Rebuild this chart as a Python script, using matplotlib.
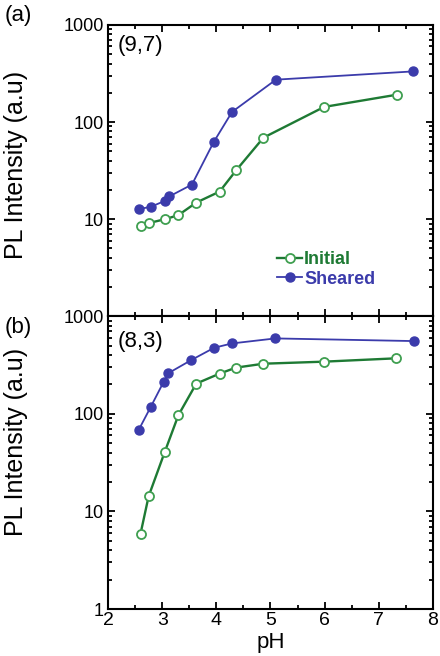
import matplotlib
matplotlib.use('Agg')
import matplotlib.pyplot as plt
from matplotlib.ticker import LogLocator, NullFormatter, MultipleLocator, FixedLocator

plt.rcParams['font.family'] = ['Liberation Sans', 'DejaVu Sans']

# (9,7) panel
ph_sheared_a = [2.58, 2.79, 3.05, 3.13, 3.55, 3.95, 4.29, 5.10, 7.63]
pl_sheared_a = [12.7, 13.4, 15.4, 17.1, 22.7, 62, 127, 273, 332]
ph_initial_a = [2.60, 2.75, 3.06, 3.30, 3.63, 4.06, 4.37, 4.87, 5.99, 7.33]
pl_initial_a = [8.5, 9.1, 10.0, 11.0, 14.8, 19.2, 32, 69, 143, 191]

# (8,3) panel
ph_sheared_b = [2.57, 2.79, 3.03, 3.11, 3.54, 3.96, 4.29, 5.09, 7.65]
pl_sheared_b = [69, 118, 214, 260, 356, 475, 526, 592, 556]
ph_initial_b = [2.60, 2.75, 3.05, 3.30, 3.63, 4.06, 4.36, 4.87, 5.98, 7.31]
pl_initial_b = [5.9, 14.3, 41, 97, 204, 258, 297, 326, 342, 370]

yticks = [1, 10, 100, 1000]
ytick_labels = ['1', '10', '100', '1000']

blue = '#3b3bab'
green = '#1e7a34'
green_edge = '#3f9f50'

fig = plt.figure(figsize=(4.40, 6.56), dpi=100)
ax1 = fig.add_axes([0.2455, 0.518, 0.7385, 0.444])
ax2 = fig.add_axes([0.2455, 0.0716, 0.7385, 0.4464])


def style_axis(ax):
    ax.set_yscale('log')
    ax.set_xlim(2, 8)
    ax.set_ylim(1, 1000)
    ax.xaxis.set_major_locator(MultipleLocator(1))
    ax.xaxis.set_minor_locator(MultipleLocator(0.5))
    ax.yaxis.set_major_locator(FixedLocator(yticks))
    ax.yaxis.set_minor_locator(LogLocator(base=10, subs=range(2, 10)))
    ax.yaxis.set_minor_formatter(NullFormatter())
    ax.set_yticklabels(ytick_labels)
    ax.tick_params(which='both', direction='in', top=True, right=True, width=1.3)
    ax.tick_params(which='major', length=5, labelsize=13, pad=3)
    ax.tick_params(which='minor', length=3)
    for s in ax.spines.values():
        s.set_linewidth(1.5)


for ax in (ax1, ax2):
    style_axis(ax)

ax1.plot(ph_initial_a, pl_initial_a, '-o', color=green, lw=1.7, ms=6.5,
         mfc='white', mec=green_edge, mew=1.3, label='Initial')
ax1.plot(ph_sheared_a, pl_sheared_a, '-o', color=blue, lw=1.3, ms=6.5,
         mfc=blue, mec=blue, label='Sheared')
ax2.plot(ph_initial_b, pl_initial_b, '-o', color=green, lw=1.7, ms=6.5,
         mfc='white', mec=green_edge, mew=1.3)
ax2.plot(ph_sheared_b, pl_sheared_b, '-o', color=blue, lw=1.3, ms=6.5,
         mfc=blue, mec=blue)

ax1.set_yticklabels(['', '10', '100', '1000'])
ax1.tick_params(labelbottom=False)
ax2.tick_params(axis='x', labelsize=14, pad=2)

leg = ax1.legend(loc='upper left', bbox_to_anchor=(0.47, 0.28), frameon=False,
                 handlelength=1.4, handletextpad=0.1, labelspacing=0.15,
                 prop={'weight': 'bold', 'size': 13})
for txt, c in zip(leg.get_texts(), [green, blue]):
    txt.set_color(c)

ax1.text(0.03, 0.93, '(9,7)', transform=ax1.transAxes, fontsize=16, va='center')
ax2.text(0.03, 0.915, '(8,3)', transform=ax2.transAxes, fontsize=16, va='center')

ax1.set_ylabel('PL Intensity (a.u)', fontsize=18)
ax1.yaxis.set_label_coords(-0.245, 0.52)
ax2.set_ylabel('PL Intensity (a.u)', fontsize=18)
ax2.yaxis.set_label_coords(-0.245, 0.57)
ax2.set_xlabel('pH', fontsize=16)
ax2.xaxis.set_label_coords(0.5, -0.08)

fig.text(0.01, 1 - 15 / 656, '(a)', fontsize=16, va='center')
fig.text(0.01, 1 - 328 / 656, '(b)', fontsize=16, va='center')

fig.savefig('out.png', dpi=100)
